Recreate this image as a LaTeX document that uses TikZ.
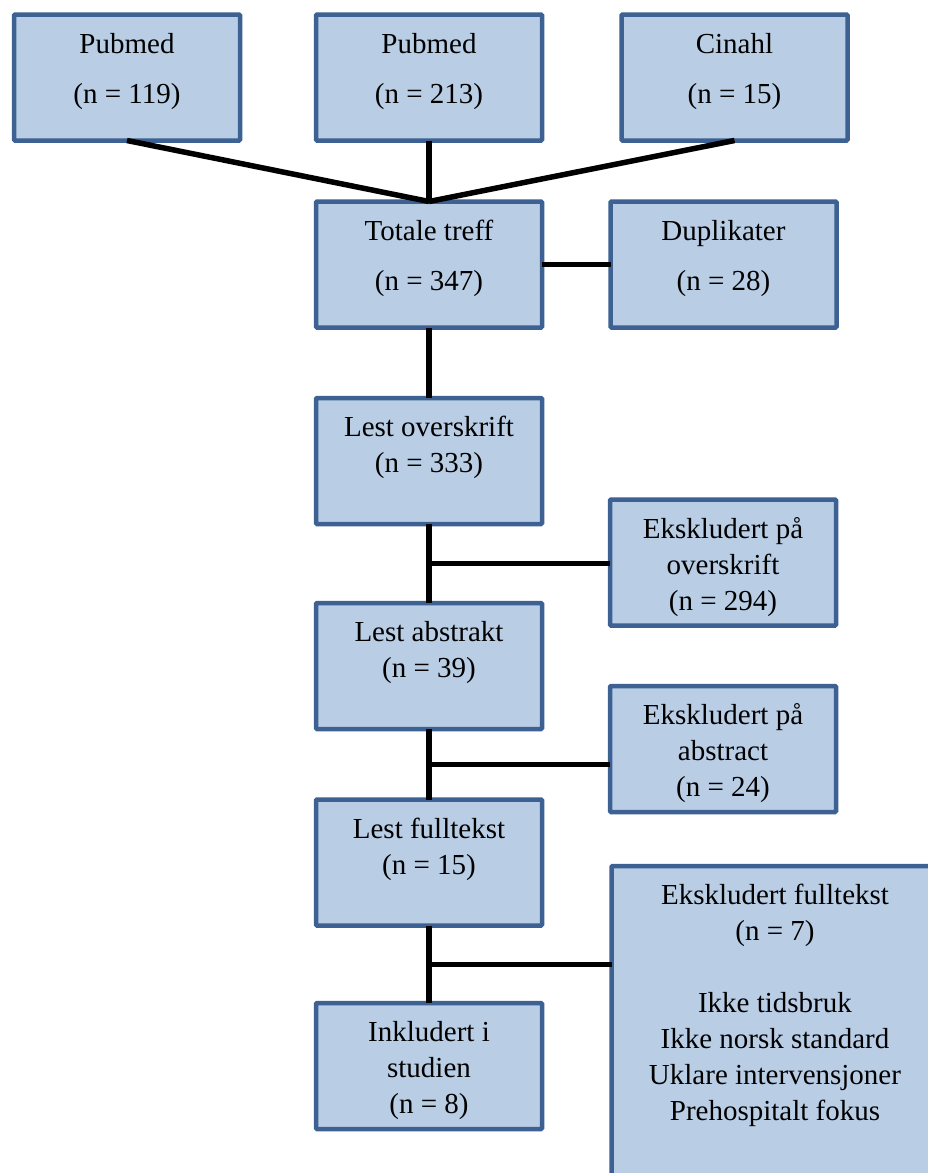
\documentclass[tikz,border=0pt]{standalone}
\usepackage{fontspec}
\setmainfont{Liberation Serif}
\usetikzlibrary{calc}
\definecolor{boxfill}{HTML}{B9CDE5}
\definecolor{boxline}{HTML}{3C6192}
\newcommand{\boxtext}[3]{\parbox[c][#2pt][t]{#1pt}{\centering\fontsize{29}{36}\selectfont\vspace*{13.5pt}\strut #3\par}}
\tikzset{
  flowbox/.style={draw=boxline, fill=boxfill, line width=4.5pt, rounded corners=1pt, inner sep=0pt, outer sep=0pt},
  link/.style={draw=black, line width=5.5pt}
}
\begin{document}
\begin{tikzpicture}[x=1pt,y=-1pt]
\path[use as bounding box, clip] (0,0) rectangle (928,1173);
% top row
\node[flowbox] (pub1) at (127,77.5) {\boxtext{226}{126}{Pubmed\\[14pt](n = 119)}};
\node[flowbox] (pub2) at (429,77.5) {\boxtext{226}{126}{Pubmed\\[14pt](n = 213)}};
\node[flowbox] (cin) at (734.5,77.5) {\boxtext{226}{126}{Cinahl\\[14pt](n = 15)}};
% second row
\node[flowbox] (tot) at (429,264.5) {\boxtext{226}{126}{Totale treff\\[14pt](n = 347)}};
\node[flowbox] (dup) at (723.5,264.5) {\boxtext{226}{126}{Duplikater\\[14pt](n = 28)}};
% main column
\node[flowbox] (lo) at (429,461) {\boxtext{226}{126}{Lest overskrift\\(n = 333)}};
\node[flowbox] (eo) at (723,562.5) {\boxtext{226}{126}{Ekskludert på\\overskrift\\(n = 294)}};
\node[flowbox] (la) at (429,666) {\boxtext{226}{126}{Lest abstrakt\\(n = 39)}};
\node[flowbox] (ea) at (723,749) {\boxtext{226}{126}{Ekskludert på\\abstract\\(n = 24)}};
\node[flowbox] (lf) at (429,862.5) {\boxtext{226}{126}{Lest fulltekst\\(n = 15)}};
\node[flowbox] (ef) at (775,1028) {\boxtext{327}{324}{Ekskludert fulltekst\\(n = 7)\\[36pt]Ikke tidsbruk\\Ikke norsk standard\\Uklare intervensjoner\\Prehospitalt fokus}};
\node[flowbox] (ink) at (429,1066) {\boxtext{226}{126}{Inkludert i\\studien\\(n = 8)}};
% connectors
\draw[link] (pub1.south) -- (tot.north);
\draw[link] (pub2.south) -- (tot.north);
\draw[link] (cin.south) -- (tot.north);
\draw[link] (tot.east) -- (dup.west);
\draw[link] (tot.south) -- (lo.north);
\draw[link] (lo.south) -- (la.north);
\coordinate (m1) at ($(lo.south)!0.5!(la.north)$);
\draw[link] (m1) -- (m1 -| eo.west);
\draw[link] (la.south) -- (lf.north);
\coordinate (m2) at ($(la.south)!0.5!(lf.north)$);
\draw[link] (m2) -- (m2 -| ea.west);
\draw[link] (lf.south) -- (ink.north);
\coordinate (m3) at ($(lf.south)!0.5!(ink.north)$);
\draw[link] (m3) -- (m3 -| ef.west);
\end{tikzpicture}
\end{document}
